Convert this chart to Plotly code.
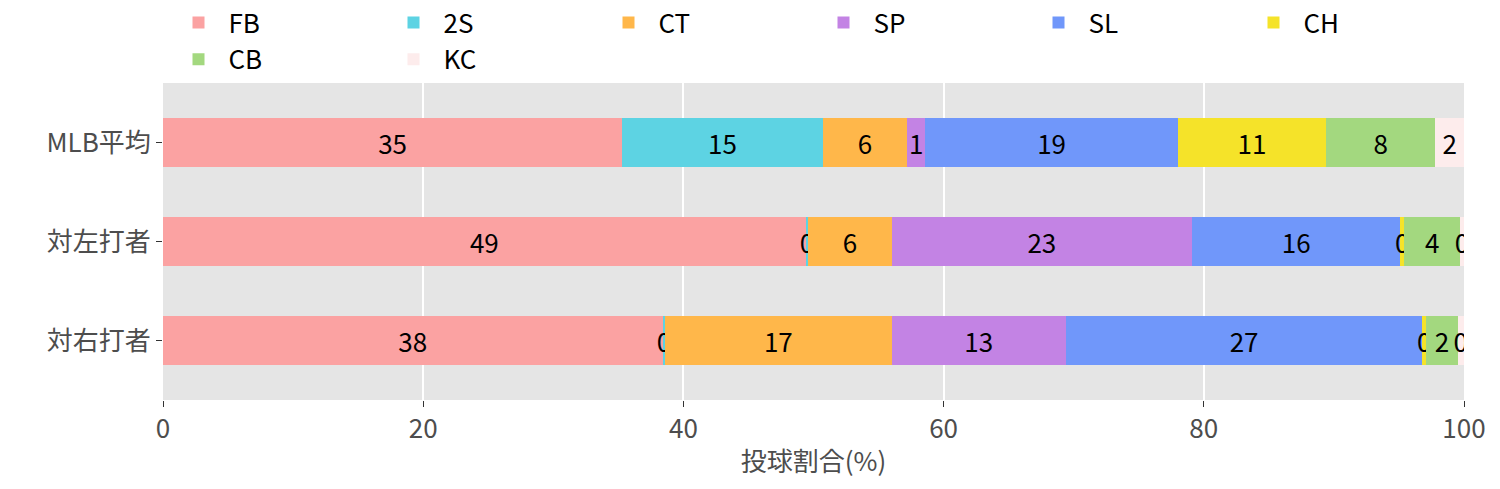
import plotly.graph_objects as go

categories = ["対右打者", "対左打者", "MLB平均"]
pitches = ["FB", "2S", "CT", "SP", "SL", "CH", "CB", "KC"]
colors = ["#FBA2A2", "#5DD3E3", "#FFB74A", "#C383E4", "#7097FA", "#F5E329", "#A3D87F", "#FDECEC"]
# values per pitch, ordered as categories (右, 左, MLB)
FB = [38.4, 49.4, 35.3]
S2 = [0.2, 0.2, 15.4]
CT = [17.4, 6.4, 6.5]
SP = [13.4, 23.1, 1.4]
SL = [27.4, 16.0, 19.4]
CH = [0.3, 0.3, 11.4]
CB = [2.4, 4.3, 8.4]
KC = [0.5, 0.3, 2.2]
series = [FB, S2, CT, SP, SL, CH, CB, KC]

fig = go.Figure()
for name, vals, c in zip(pitches, series, colors):
    fig.add_trace(go.Bar(
        y=categories, x=vals, name=name, orientation="h", marker_color=c,
        marker_line_width=0, width=0.5,
        text=[f"{v:.0f}" for v in vals], textposition="inside",
        insidetextanchor="middle", textangle=0, constraintext="none",
        textfont=dict(color="black", size=26),
    ))

fig.update_layout(
    barmode="stack", width=1500, height=489,
    font=dict(family="Noto Sans CJK JP", size=26, color="#4d4d4d"),
    paper_bgcolor="white", plot_bgcolor="#E5E5E5",
    margin=dict(l=155, r=44, t=75, b=97, autoexpand=False),
    legend=dict(orientation="h", x=0.5, xanchor="center", y=1.0, yanchor="bottom",
                font=dict(size=26, color="black"), traceorder="normal",
                itemwidth=50, entrywidth=150),
    showlegend=True,
)
fig.update_xaxes(range=[0, 100], tickvals=[0, 20, 40, 60, 80, 100], gridcolor="white",
                 gridwidth=2, zeroline=False, ticks="outside", ticklen=6, tickcolor="#333",
                 tickfont=dict(size=26), automargin=False,
                 title=dict(text="投球割合(%)", font=dict(size=26, color="#4d4d4d"), standoff=8))
fig.update_yaxes(gridcolor="white", ticks="outside", ticklen=6, tickcolor="#333",
                 tickfont=dict(size=26), automargin=False, range=[-0.6, 2.6])
fig.write_html("out.html")
